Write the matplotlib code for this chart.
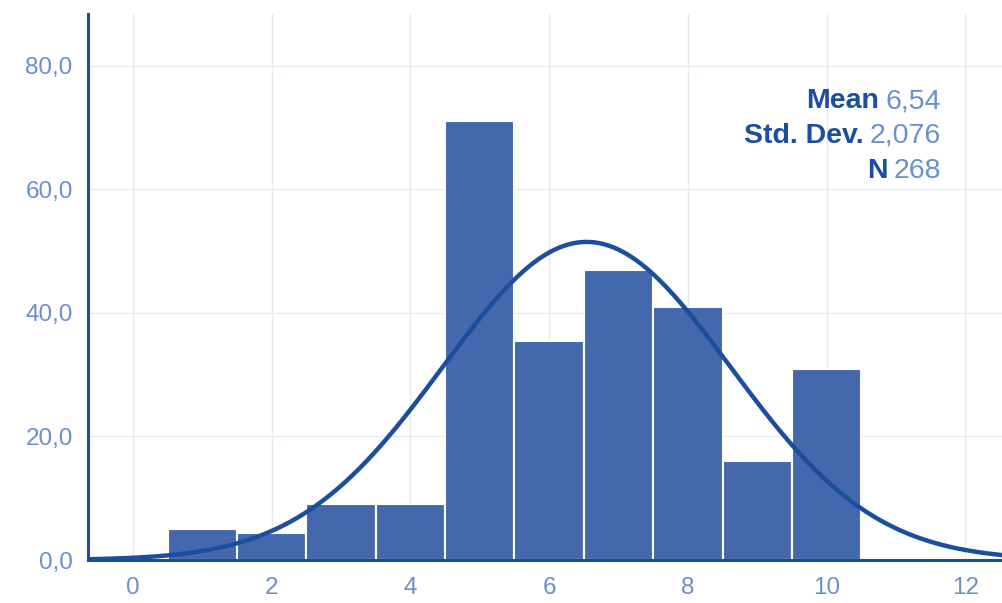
import numpy as np
import matplotlib
matplotlib.use("Agg")
import matplotlib.pyplot as plt

# Histogram bins (centres) and counts
bin_centers = [1, 2, 3, 4, 5, 6, 7, 8, 9, 10]
counts = [5, 4.4, 9, 9, 71, 35.5, 47, 41, 16, 31]
bin_width = 1.0

# Summary statistics
mean = 6.54
std_dev = 2.076
n_obs = 268

x_ticks = [0, 2, 4, 6, 8, 10, 12]
y_ticks = [0, 20, 40, 60, 80]

bar_color = "#4368AD"
line_color = "#1B4F9E"
label_color = "#6A90CB"
grid_color = "#E3EAF3"

plt.rcParams["font.family"] = ["Liberation Sans", "DejaVu Sans"]

fig = plt.figure(figsize=(10.02, 6.03), dpi=100)
ax = fig.add_axes([88 / 1002, 43 / 603, 1 - 88 / 1002, (560 - 14) / 603])

ax.bar(bin_centers, counts, width=bin_width, color=bar_color,
       edgecolor="white", linewidth=1.5, zorder=2)

xs = np.linspace(-0.65, 12.55, 400)
pdf = np.exp(-0.5 * ((xs - mean) / std_dev) ** 2) / (std_dev * np.sqrt(2 * np.pi))
ax.plot(xs, n_obs * bin_width * pdf, color=line_color, linewidth=3.2, zorder=3,
        solid_capstyle="round")

ax.set_xlim(-0.65, 12.53)
ax.set_ylim(0, 88.4)
ax.set_xticks(x_ticks)
ax.set_yticks(y_ticks)
ax.set_xticklabels([str(t) for t in x_ticks])
ax.set_yticklabels([f"{t:.1f}".replace(".", ",") for t in y_ticks])
ax.tick_params(length=0, labelsize=17.5, labelcolor=label_color)
ax.tick_params(axis="x", pad=12)
ax.tick_params(axis="y", pad=11)

ax.grid(True, color=grid_color, linewidth=1.0, zorder=0)
ax.set_axisbelow(True)

for side in ("top", "right"):
    ax.spines[side].set_visible(False)
for side in ("left", "bottom"):
    ax.spines[side].set_color(line_color)
    ax.spines[side].set_linewidth(2.2)

# Statistics block, right-aligned: bold label followed by a lighter value
stats = [("Mean", f"{mean:.2f}".replace(".", ",")),
         ("Std. Dev.", f"{std_dev:.3f}".replace(".", ",")),
         ("N", str(n_obs))]
fig.canvas.draw()
renderer = fig.canvas.get_renderer()
x_right = 941 / 1002
for i, (name, val) in enumerate(stats):
    y = (603 - 108.5 - i * 34.5) / 603
    t_val = fig.text(x_right, y, val, ha="right", va="baseline", fontsize=20.5,
                     color=label_color)
    bb = t_val.get_window_extent(renderer)
    fig.text((bb.x0 - 6) / fig.bbox.width, y, name, ha="right", va="baseline",
             fontsize=20.5, color=line_color, fontweight="bold")

fig.savefig("out.png", dpi=100)
